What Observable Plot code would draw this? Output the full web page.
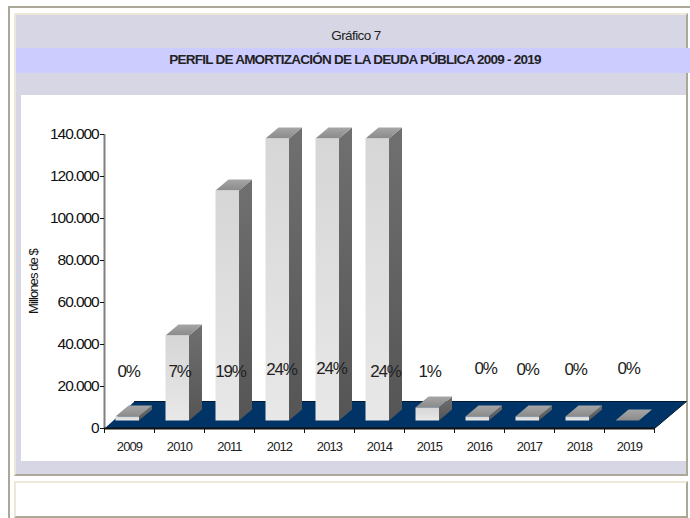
<!DOCTYPE html>
<html lang="es">
<head>
<meta charset="utf-8">
<script src="https://cdn.jsdelivr.net/npm/d3@7"></script>
<script src="https://cdn.jsdelivr.net/npm/@observablehq/plot@0.6"></script>
<style>
html,body{margin:0;padding:0;background:#fff;}
body{position:relative;width:690px;height:518px;overflow:hidden;font-family:"Liberation Sans",Arial,sans-serif;}
.b{position:absolute;box-sizing:border-box;}
#chart{position:absolute;left:21px;top:95px;}
#chart svg{overflow:visible;display:block;}
#chart text{font-family:"Liberation Sans",Arial,sans-serif;letter-spacing:-.07em;}
#t1,#t2{position:absolute;left:16px;width:680px;text-align:center;color:#222;white-space:nowrap;font-size:13.5px;}
#t1{top:28px;letter-spacing:-.6px;}
#t2{top:52px;font-weight:bold;letter-spacing:-.76px;left:15px;}
</style>
</head>
<body>
<div class="b" style="left:8px;top:6px;width:682px;height:512px;border-left:2px solid #aca899;border-top:2px solid #aca899;"></div>
<div class="b" style="left:14px;top:13px;width:674px;height:463px;background:#d6d6e4;border:2px solid #ece9d8;border-right:2px solid #aca899;border-bottom:2px solid #aca899;"></div>
<div class="b" style="left:16px;top:48px;width:674px;height:25px;background:#ccccff;"></div>
<div class="b" style="left:21px;top:95px;width:665px;height:366px;background:#fff;"></div>
<div class="b" style="left:14px;top:481px;width:674px;height:37px;background:#fff;border:2px solid #ece9d8;border-right:2px solid #aca899;border-bottom:2px solid #aca899;"></div>
<div id="t1">Gráfico 7</div>
<div id="t2">PERFIL DE AMORTIZACIÓN DE LA DEUDA PÚBLICA 2009 - 2019</div>
<div id="chart"></div>
<script>
const years = [2009,2010,2011,2012,2013,2014,2015,2016,2017,2018,2019];
const amounts = [1900,40500,109500,134300,134300,134300,6200,1900,1900,1900,0];
const shares = ["0%","7%","19%","24%","24%","24%","1%","0%","0%","0%","0%"];
const yTicks = [0,20000,40000,60000,80000,100000,120000,140000];

// Where each percentage label floats, read on the chart's own axes.
const labelX = [0.48,1.5,2.52,3.54,4.54,5.62,6.5,7.62,8.46,9.42,10.48];
const labelY = [27100,27100,27100,28000,28500,27100,27100,28500,28000,28000,28500];

// Pseudo-3D projection, in axis units.
const baseLift = 3810, depthX = 0.26, depthY = 5240, barInset = 0.22, barWidth = 0.47;
const floorDepthX = 0.6, floorDepthY = 12860, floorEnd = 11.64;

const faces = [];
years.forEach((year, i) => {
  const x0 = i + barInset, x1 = x0 + barWidth;
  const y0 = baseLift, y1 = baseLift + amounts[i];
  const add = (face, pts) => pts.forEach(([x, y]) => faces.push({id: year + face, face, x, y}));
  if (amounts[i] > 0) {
    add("side", [[x1,y0],[x1+depthX,y0+depthY],[x1+depthX,y1+depthY],[x1,y1]]);
  }
  add("top", [[x0,y1],[x1,y1],[x1+depthX,y1+depthY],[x0+depthX,y1+depthY]]);
  if (amounts[i] > 0) {
    add("front", [[x0,y0],[x1,y0],[x1,y1],[x0,y1]]);
  }
});
const floor = [
  {x: 0, y: 0},
  {x: 11, y: 0},
  {x: floorEnd, y: floorDepthY},
  {x: floorDepthX, y: floorDepthY}
];

const grad = (id, a, b) => `<linearGradient id="${id}" x1="0" y1="0" x2="0" y2="1"><stop offset="0" stop-color="${a}"/><stop offset="1" stop-color="${b}"/></linearGradient>`;
const defs = () => {
  const g = document.createElementNS("http://www.w3.org/2000/svg", "defs");
  g.innerHTML = grad("gFront","#d6d6d6","#e8e8e8") + grad("gSide","#707070","#555555") + grad("gTop","#a6a6a6","#8a8a8a");
  return g;
};
const fillOf = {front:"url(#gFront)", side:"url(#gSide)", top:"url(#gTop)"};
const faceMark = face => Plot.line(faces.filter(d => d.face === face), {x:"x", y:"y", z:"id", fill:fillOf[face], stroke:"none", curve:"linear"});
const fmt = d => d3.format(",")(d).replace(/,/g, ".");

const plot = Plot.plot({
  width: 665, height: 366,
  marginLeft: 83, marginRight: 32, marginTop: 39, marginBottom: 33,
  style: {background:"transparent", overflow:"visible"},
  x: {domain:[0,11], axis:null},
  y: {domain:[0,140000], axis:null},
  marks: [
    defs,
    Plot.line(floor, {x:"x", y:"y", fill:"#003366", stroke:"#001a33", strokeWidth:1, curve:"linear"}),
    Plot.ruleX([0], {y1:0, y2:140000, stroke:"#808080", strokeWidth:2}),
    faceMark("side"),
    faceMark("top"),
    faceMark("front"),
    Plot.ruleY([0], {x1:0, x2:11, stroke:"#111", strokeWidth:2}),
    Plot.axisY({ticks:yTicks, tickFormat:fmt, tickSize:4, tickPadding:2, fontSize:15.5, label:null, color:"#111"}),
    Plot.text(["Millones de $"], {frameAnchor:"left", rotate:-90, textAnchor:"middle", dx:-71, fontSize:13, fill:"#111"}),
    Plot.axisX({ticks:d3.range(0,12), tickFormat:() => "", tickSize:5, label:null, color:"#111"}),
    Plot.axisX({ticks:years.map((y,i) => i + 0.5), tickFormat:(d) => String(years[Math.floor(d)]), tickSize:0, tickPadding:13, fontSize:13, label:null, color:"#222"}),
    Plot.text(shares, {x:(d,i) => labelX[i], y:(d,i) => labelY[i], text:d => d, fontSize:17, fill:"#222"})
  ]
});
document.getElementById("chart").appendChild(plot);
</script>
</body>
</html>
